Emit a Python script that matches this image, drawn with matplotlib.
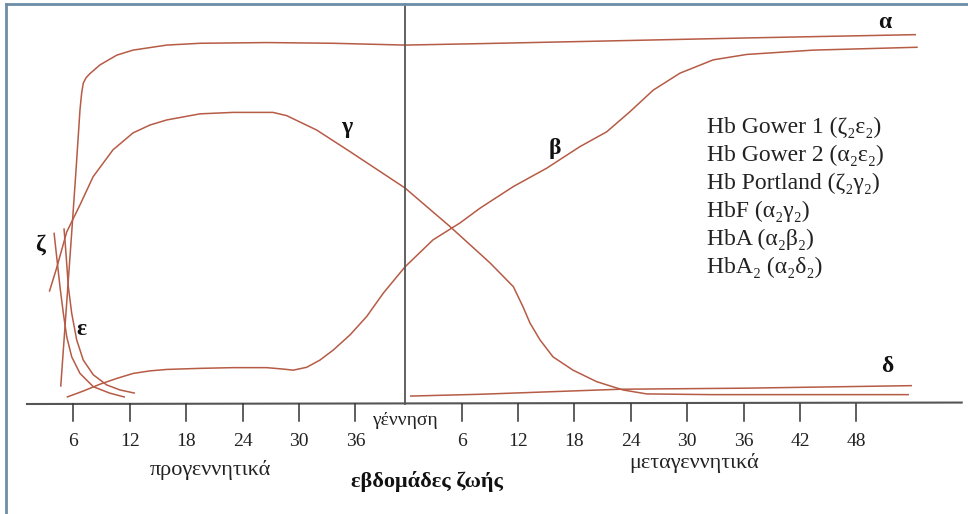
import numpy as np
import matplotlib.pyplot as plt

# x: weeks since conception (birth at ~41.3), y: % of globin synthesis
birth = 41.3

alpha_x = [4.65, 5.21, 5.79, 6.28, 6.70, 6.88, 7.05, 7.34, 7.77, 8.83, 10.61, 12.34, 15.93, 19.47,
           26.56, 33.62, 41.28, 49.26, 62.02, 77.98, 95.64]
alpha_y = [4.8, 25.3, 46.5, 65.0, 81.7, 86.4, 89.1, 90.6, 91.8, 94.2, 96.9, 98.3, 99.7, 100.2,
           100.4, 100.2, 99.7, 100.1, 100.8, 101.7, 102.6]

gamma_x = [3.44, 4.22, 5.29, 6.70, 8.09, 10.21, 12.34, 14.15, 15.93, 19.47, 22.98, 27.23, 28.69, 31.88,
           35.43, 41.28, 46.06, 50.32, 52.80, 53.83, 54.57, 55.64, 57.02, 59.15, 61.67, 64.47, 66.99,
           74.04, 94.89]
gamma_y = [31.2, 37.8, 47.8, 55.3, 63.1, 70.6, 75.3, 77.5, 78.9, 80.6, 81.0, 81.0, 80.1, 76.1,
           70.1, 60.0, 49.3, 39.2, 32.6, 27.0, 22.5, 17.8, 13.1, 9.4, 6.2, 3.9, 2.8,
           2.6, 2.6]

beta_x = [5.29, 7.05, 8.83, 10.61, 12.37, 14.15, 15.93, 19.47, 23.01, 26.56, 28.33, 29.39, 30.82, 32.23,
          33.65, 35.43, 37.20, 38.97, 41.28, 44.26, 47.13, 49.26, 52.80, 56.35, 59.89, 62.73, 65.21,
          67.69, 70.53, 74.07, 77.63, 84.71, 95.82]
beta_y = [1.9, 3.6, 5.5, 7.1, 8.5, 9.2, 9.6, 9.9, 10.1, 10.1, 9.7, 9.4, 10.2, 12.2,
          15.0, 19.2, 24.3, 30.8, 38.1, 45.6, 50.3, 54.4, 60.4, 65.5, 71.5, 75.6, 81.2,
          87.2, 91.9, 95.6, 97.1, 98.3, 99.1]

delta_x = [41.81, 49.26, 64.15, 77.63, 95.21]
delta_y = [2.2, 2.7, 4.1, 4.4, 5.1]

zeta_x = [3.94, 4.22, 4.57, 4.93, 5.29, 5.82, 6.70, 8.12, 9.89, 11.49]
zeta_y = [47.6, 40.9, 32.6, 25.2, 18.7, 13.1, 8.5, 4.8, 3.0, 1.9]

eps_x = [5.0, 5.21, 5.46, 5.82, 6.35, 7.05, 8.12, 9.54, 10.96, 12.55]
eps_y = [48.8, 41.9, 32.6, 25.2, 17.8, 12.2, 8.1, 5.3, 3.9, 3.0]

pre_ticks = [6, 12, 18, 24, 30, 36]
post_ticks = [6, 12, 18, 24, 30, 36, 42, 48]

legend_lines = ['Hb Gower 1 (ζ₂ε₂)', 'Hb Gower 2 (α₂ε₂)', 'Hb Portland (ζ₂γ₂)',
                'HbF (α₂γ₂)', 'HbA (α₂β₂)', 'HbA₂ (α₂δ₂)']

col = '#b65b45'
gray = '#555555'
serif = ['Liberation Serif', 'DejaVu Serif']

fig = plt.figure(figsize=(9.68, 5.14), dpi=100)
ax = fig.add_axes([0, 0, 1, 1])
ax.set_xlim(-17 / 9.4, (968 - 17) / 9.4)
ax.set_ylim((404 - 514) / 3.6, 404 / 3.6)
ax.axis('off')

for xs, ys in [(alpha_x, alpha_y), (gamma_x, gamma_y), (beta_x, beta_y),
               (delta_x, delta_y), (zeta_x, zeta_y), (eps_x, eps_y)]:
    ax.plot(xs, ys, color=col, lw=1.1, solid_capstyle='butt', solid_joinstyle='round')

# axis line, birth line, ticks
ax.plot([1.06, 100.5], [0, 0.4], color=gray, lw=1.5)
ax.plot([birth, birth], [0, 111], color=gray, lw=1.3)
for t in pre_ticks:
    ax.plot([t, t], [0, -4.7], color='#333333', lw=1.1)
    ax.text(t, -10.5, str(t), ha='center', va='center', fontsize=14, family=serif, color='#222222')
for t in post_ticks:
    ax.plot([birth + t, birth + t], [0, -4.7], color='#333333', lw=1.1)
    ax.text(birth + t, -10.5, str(t), ha='center', va='center', fontsize=14, family=serif, color='#222222')

ax.text(birth, -4.6, 'γέννηση', ha='center', va='center', fontsize=14, family=serif, color='#222222')
ax.text(20.6, -18.3, 'προγεννητικά', ha='center', va='center', fontsize=16, family=serif, color='#222222')
ax.text(72.0, -16.3, 'μεταγεννητικά', ha='center', va='center', fontsize=16, family=serif, color='#222222')
ax.text(43.6, -21.6, 'εβδομάδες ζωής', ha='center', va='center', fontsize=16, family=serif,
        fontweight='bold', color='#111111')

# gene labels
gene_labels = {'α': (92.3, 106.1), 'β': (57.2, 71.1), 'γ': (35.1, 76.7),
               'δ': (92.6, 10.3), 'ε': (6.9, 20.6), 'ζ': (2.45, 44.2)}
for g, (gx, gy) in gene_labels.items():
    ax.text(gx, gy, g, ha='center', va='center', fontsize=17, family=serif,
            fontweight='bold', color='#111111')

for i, s in enumerate(legend_lines):
    ax.text(73.4, 76.9 - i * 7.8, s, ha='left', va='center', fontsize=17, family=serif, color='#222222')

# frame (top and left edges visible)
fig.add_artist(plt.Line2D([5.5 / 968, 5.5 / 968], [0, 1 - 3.5 / 514], transform=fig.transFigure,
                          color='#6e8ea8', lw=2))
fig.add_artist(plt.Line2D([5.5 / 968, 1], [1 - 3.5 / 514, 1 - 3.5 / 514], transform=fig.transFigure,
                          color='#6e8ea8', lw=2))

fig.savefig('out.png', dpi=100)
